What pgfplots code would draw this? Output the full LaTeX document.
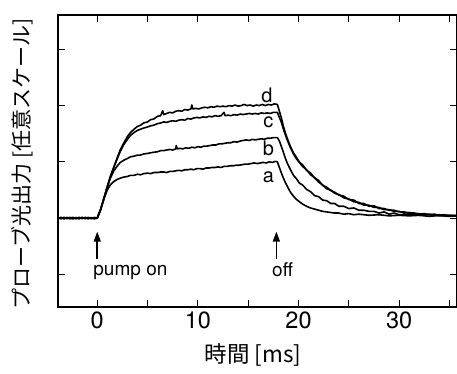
\documentclass[border=0pt]{standalone}
\usepackage{pgfplots}
\pgfplotsset{compat=1.18}
\usetikzlibrary{arrows.meta}
\usepackage{fontspec}
\setmainfont{TeX Gyre Heros}
\newfontfamily\jp{Noto Sans CJK JP}
\tikzset{trace/.style={black, line width=1.6pt, mark=none, line join=round, line cap=round}}
\begin{document}
\begin{tikzpicture}
\useasboundingbox (-58pt,-66pt) rectangle (399pt,307pt);
\begin{axis}[at={(0,0)}, anchor=south west, scale only axis,
  width=398.5pt, height=292pt,
  xmin=-3.9, xmax=35.7, ymin=-1.58, ymax=3.61,
  xtick={0,10,20,30}, minor xtick={5,15,25,35},
  ytick={-1,0,1,2,3}, yticklabels={},
  tick align=inside, major tick length=7pt, minor tick length=7pt,
  axis line style={line width=1.3pt},
  every tick/.style={black, line width=1.2pt},
  /pgf/number format/assume math mode=true,
  ticklabel style={font=\fontsize{23.5}{27}\selectfont},
  xticklabel style={yshift=-1pt},
  clip mode=individual,
  xlabel={時間 [ms]},
  ylabel={プローブ光出力 [任意スケール]},
  xlabel style={font=\jp\fontsize{22.5}{26}\selectfont, at={(axis description cs:0.489,-0.164)}, anchor=center},
  ylabel style={font=\jp\fontsize{21}{24}\selectfont, at={(axis description cs:-0.09,0.49)}, anchor=center, rotate=0},
]
% d
\addplot[trace] coordinates {(-3.9,0.005) (-3.6,-0.012) (-3.3,0.010) (-3.0,-0.006) (-2.7,0.014) (-2.4,-0.010) (-2.1,0.004) (-1.8,-0.013) (-1.5,0.011) (-1.2,-0.004) (-0.9,0.012) (-0.6,-0.010) (-0.3,0.006) (0,-0.005)
(0.33,0.15) (0.66,0.35) (1.0,0.56) (1.3,0.74) (1.65,0.91) (2.0,1.08) (2.3,1.22) (2.65,1.34) (3.0,1.45) (3.3,1.52) (3.65,1.58) (4.0,1.63) (4.3,1.65) (4.6,1.69) (5.0,1.71) (5.3,1.75) (5.6,1.76) (6.0,1.81) (6.3,1.82) (6.5,1.91) (6.6,1.84) (6.9,1.86) (7.2,1.88) (7.5,1.87) (7.8,1.90) (8.1,1.91) (8.4,1.90) (8.7,1.93) (9.0,1.92) (9.3,1.94) (9.4,2.01) (9.5,1.94) (9.8,1.95) (10.1,1.94) (10.4,1.96) (10.7,1.97) (11.0,1.96) (11.3,1.98) (11.6,1.97) (11.9,1.99) (12.2,1.98) (12.5,1.99) (12.8,1.98) (13.1,2.00) (13.4,1.99) (13.7,2.01) (14.0,1.99) (14.3,2.00) (14.6,2.02) (14.9,2.00) (15.2,2.01) (15.5,1.99) (15.8,2.01) (16.1,2.00) (16.4,2.02) (16.7,2.00) (17.0,2.02) (17.3,2.01) (17.6,2.03) (17.9,2.02)
(18.1,1.90) (18.3,1.78) (18.5,1.63) (18.7,1.51) (18.9,1.41) (19.2,1.27) (19.5,1.16) (19.8,1.08) (20.1,0.99) (20.4,0.95) (20.8,0.85) (21.2,0.80) (21.6,0.71) (22.0,0.67) (22.4,0.58) (22.8,0.55) (23.2,0.49) (23.6,0.46) (24.0,0.41) (24.5,0.39) (25.0,0.33) (25.5,0.32) (26.0,0.26) (26.5,0.26) (27.0,0.21) (27.5,0.22) (28.0,0.17) (28.5,0.17) (29.0,0.14) (29.5,0.14) (30.0,0.11) (30.5,0.11) (31.0,0.09) (31.5,0.09) (32.0,0.07) (32.5,0.08) (33.0,0.06) (33.5,0.07) (34.0,0.05) (34.5,0.06) (35.0,0.04) (35.7,0.05)};
% c
\addplot[trace] coordinates {(-3.9,-0.008) (-3.6,0.010) (-3.3,-0.012) (-3.0,0.009) (-2.7,-0.007) (-2.4,0.013) (-2.1,-0.011) (-1.8,0.008) (-1.5,-0.009) (-1.2,0.012) (-0.9,-0.006) (-0.6,0.010) (-0.3,-0.012) (0,0.004)
(0.33,0.15) (0.66,0.35) (1.0,0.56) (1.3,0.73) (1.65,0.90) (2.0,1.06) (2.3,1.19) (2.65,1.31) (3.0,1.40) (3.3,1.47) (3.65,1.52) (4.0,1.56) (4.3,1.58) (4.6,1.60) (5.0,1.62) (5.3,1.64) (5.6,1.65) (6.0,1.68) (6.3,1.69) (6.6,1.71) (6.9,1.70) (7.2,1.72) (7.5,1.73) (7.8,1.72) (8.1,1.74) (8.4,1.75) (8.7,1.74) (9.0,1.77) (9.3,1.76) (9.6,1.78) (9.9,1.79) (10.2,1.78) (10.5,1.80) (10.8,1.79) (11.1,1.81) (11.4,1.80) (11.7,1.82) (12.0,1.81) (12.3,1.82) (12.6,1.88) (12.7,1.82) (13.0,1.83) (13.3,1.82) (13.6,1.84) (13.9,1.83) (14.2,1.85) (14.5,1.84) (14.8,1.85) (15.1,1.86) (15.4,1.85) (15.7,1.86) (16.0,1.85) (16.3,1.87) (16.6,1.86) (16.9,1.87) (17.2,1.86) (17.5,1.88) (17.9,1.88)
(18.1,1.79) (18.3,1.70) (18.5,1.58) (18.7,1.48) (18.9,1.38) (19.2,1.25) (19.5,1.14) (19.8,1.05) (20.1,0.99) (20.4,0.92) (20.8,0.86) (21.2,0.77) (21.6,0.72) (22.0,0.64) (22.4,0.59) (22.8,0.52) (23.2,0.50) (23.6,0.44) (24.0,0.42) (24.5,0.36) (25.0,0.34) (25.5,0.29) (26.0,0.28) (26.5,0.23) (27.0,0.23) (27.5,0.19) (28.0,0.19) (28.5,0.15) (29.0,0.15) (29.5,0.12) (30.0,0.12) (30.5,0.09) (31.0,0.10) (31.5,0.08) (32.0,0.08) (32.5,0.06) (33.0,0.07) (33.5,0.05) (34.0,0.06) (34.5,0.04) (35.0,0.05) (35.7,0.04)};
% b
\addplot[trace] coordinates {(-3.9,0.010) (-3.6,-0.005) (-3.3,0.013) (-3.0,-0.010) (-2.7,0.006) (-2.4,-0.012) (-2.1,0.011) (-1.8,-0.004) (-1.5,0.012) (-1.2,-0.011) (-0.9,0.007) (-0.6,-0.006) (-0.3,0.011) (0,0.000)
(0.33,0.15) (0.66,0.35) (1.0,0.55) (1.3,0.71) (1.65,0.84) (2.0,0.93) (2.3,0.99) (2.65,1.03) (3.0,1.06) (3.3,1.09) (3.65,1.10) (4.0,1.12) (4.3,1.12) (4.6,1.14) (5.0,1.15) (5.3,1.16) (5.6,1.17) (6.0,1.18) (6.3,1.20) (6.6,1.20) (6.9,1.21) (7.2,1.22) (7.5,1.21) (7.8,1.23) (7.85,1.29) (7.95,1.23) (8.2,1.24) (8.5,1.23) (8.8,1.25) (9.1,1.24) (9.4,1.26) (9.7,1.25) (10.0,1.27) (10.3,1.26) (10.6,1.28) (10.9,1.28) (11.2,1.29) (11.5,1.30) (11.8,1.30) (12.1,1.32) (12.4,1.32) (12.7,1.33) (13.0,1.34) (13.3,1.34) (13.6,1.36) (13.9,1.35) (14.2,1.37) (14.5,1.38) (14.8,1.39) (15.1,1.38) (15.4,1.40) (15.7,1.39) (16.0,1.40) (16.3,1.41) (16.6,1.40) (16.9,1.42) (17.2,1.42) (17.5,1.43) (17.9,1.43)
(18.1,1.37) (18.3,1.27) (18.5,1.17) (18.7,1.06) (18.9,0.97) (19.2,0.86) (19.5,0.76) (19.8,0.70) (20.1,0.62) (20.4,0.59) (20.8,0.51) (21.2,0.47) (21.6,0.40) (22.0,0.38) (22.4,0.32) (22.8,0.31) (23.2,0.26) (23.6,0.26) (24.0,0.21) (24.5,0.21) (25.0,0.17) (25.5,0.18) (26.0,0.14) (26.5,0.14) (27.0,0.12) (27.5,0.12) (28.0,0.09) (28.5,0.11) (29.0,0.07) (29.5,0.09) (30.0,0.06) (31.0,0.07) (32.0,0.05) (33.0,0.06) (34.0,0.04) (35.0,0.05) (35.7,0.04)};
% a
\addplot[trace] coordinates {(-3.9,-0.004) (-3.6,0.012) (-3.3,-0.009) (-3.0,0.011) (-2.7,-0.012) (-2.4,0.005) (-2.1,-0.008) (-1.8,0.012) (-1.5,-0.006) (-1.2,0.009) (-0.9,-0.012) (-0.6,0.004) (-0.3,-0.007) (0,0.003)
(0.33,0.15) (0.66,0.34) (1.0,0.50) (1.3,0.59) (1.65,0.65) (2.0,0.69) (2.3,0.71) (2.65,0.73) (3.0,0.74) (3.3,0.76) (3.65,0.76) (4.0,0.78) (4.3,0.77) (4.6,0.79) (5.0,0.80) (5.3,0.79) (5.6,0.81) (6.0,0.81) (6.3,0.82) (6.6,0.82) (6.9,0.81) (7.2,0.83) (7.5,0.83) (7.8,0.84) (8.1,0.85) (8.4,0.84) (8.7,0.86) (9.0,0.86) (9.3,0.87) (9.6,0.86) (9.9,0.88) (10.2,0.88) (10.5,0.87) (10.8,0.89) (11.1,0.89) (11.4,0.90) (11.7,0.90) (12.0,0.91) (12.3,0.90) (12.6,0.92) (12.9,0.92) (13.2,0.93) (13.5,0.93) (13.8,0.94) (14.1,0.94) (14.4,0.95) (14.7,0.96) (15.0,0.96) (15.3,0.97) (15.6,0.98) (15.9,0.97) (16.2,0.98) (16.5,0.99) (16.8,0.98) (17.1,1.00) (17.4,0.99) (17.7,1.01) (17.9,1.00)
(18.1,0.90) (18.3,0.80) (18.5,0.71) (18.7,0.63) (18.9,0.56) (19.2,0.46) (19.5,0.39) (19.8,0.33) (20.1,0.29) (20.4,0.25) (20.8,0.21) (21.2,0.18) (21.6,0.16) (22.0,0.14) (22.4,0.12) (22.8,0.11) (23.2,0.10) (23.6,0.09) (24.0,0.09) (24.5,0.07) (25.0,0.08) (25.5,0.06) (26.0,0.07) (27.0,0.05) (28.0,0.06) (29.0,0.04) (30.0,0.05) (31.0,0.04) (32.0,0.05) (33.0,0.03) (34.0,0.05) (35.0,0.03) (35.7,0.04)};
% curve labels
\node[inner sep=0pt, font=\fontsize{20}{24}\selectfont] at (axis cs:16.85,2.19) {d};
\node[inner sep=0pt, font=\fontsize{20}{24}\selectfont] at (axis cs:17.0,1.71) {c};
\node[inner sep=0pt, font=\fontsize{20}{24}\selectfont] at (axis cs:17.0,1.24) {b};
\node[inner sep=0pt, font=\fontsize{20}{24}\selectfont] at (axis cs:17.0,0.73) {a};
% arrows
\draw[black, line width=1.5pt, -{Triangle[length=10pt,width=7pt]}] (axis cs:0,-0.73) -- (axis cs:0,-0.24);
\draw[black, line width=1.5pt, -{Triangle[length=10pt,width=7pt]}] (axis cs:17.8,-0.73) -- (axis cs:17.8,-0.24);
\node[anchor=west, inner sep=0pt, font=\fontsize{19}{22}\selectfont] at (axis cs:-0.4,-0.97) {pump on};
\node[anchor=west, inner sep=0pt, font=\fontsize{19}{22}\selectfont] at (axis cs:17.37,-0.91) {off};
\end{axis}
\end{tikzpicture}
\end{document}
